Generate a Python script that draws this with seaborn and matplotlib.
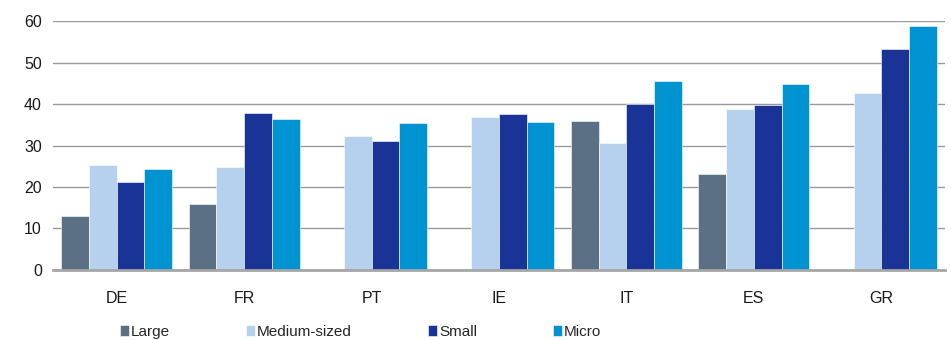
import numpy as np
import pandas as pd
import matplotlib
matplotlib.use('Agg')
import matplotlib.pyplot as plt
import seaborn as sns

# Values
countries = ['DE', 'FR', 'PT', 'IE', 'IT', 'ES', 'GR']
sizes = ['Large', 'Medium-sized', 'Small', 'Micro']
large = [13.0, 16.0, np.nan, np.nan, 36.0, 23.1, np.nan]
medium = [25.3, 24.8, 32.4, 36.9, 30.6, 38.8, 42.7]
small = [21.3, 37.8, 31.2, 37.6, 40.1, 39.7, 53.3]
micro = [24.4, 36.4, 35.5, 35.6, 45.6, 44.9, 58.8]
colors = ['#5C7085', '#B5D1EE', '#1A3396', '#0093D1']

df = pd.DataFrame({
    'country': countries * 4,
    'size': np.repeat(sizes, len(countries)),
    'value': large + medium + small + micro,
})

sns.set_style('white')
plt.rcParams['font.family'] = ['Liberation Sans', 'DejaVu Sans']

fig = plt.figure(figsize=(9.51, 3.40), dpi=100)
ax = fig.add_axes([0.0557, 0.206, 0.938, 0.732])

sns.barplot(data=df, x='country', y='value', hue='size', order=countries,
            hue_order=sizes, palette=colors, saturation=1, width=0.87, gap=0,
            edgecolor='white', linewidth=0.4, ax=ax, legend=True, zorder=3)

ax.set_ylim(0, 60)
ax.set_yticks(range(0, 61, 10))
ax.set_xlim(-0.5, len(countries) - 0.5)
ax.yaxis.grid(True, color='#9A9A9A', linewidth=1.0, zorder=0)
ax.set_axisbelow(True)
for s in ['top', 'right', 'left']:
    ax.spines[s].set_visible(False)
ax.spines['bottom'].set_color('#A6A6A6')
ax.spines['bottom'].set_linewidth(2)
ax.spines['bottom'].set_zorder(4)
ax.tick_params(axis='both', length=0, labelsize=11.5, colors='#1a1a1a', pad=8)
ax.tick_params(axis='x', pad=15)
ax.set_xlabel('')
ax.set_ylabel('')

ax.legend(loc='lower center', bbox_to_anchor=(0.345, -0.302), ncol=4,
          frameon=False, fontsize=11, handlelength=0.55, handleheight=0.75,
          handletextpad=0.15, columnspacing=5.0, borderaxespad=0)

plt.savefig('out.png', dpi=100)
plt.close()
